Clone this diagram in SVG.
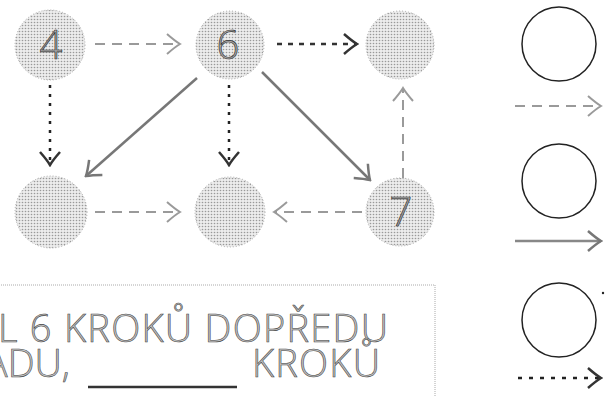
<svg xmlns="http://www.w3.org/2000/svg" width="614" height="396" viewBox="0 0 614 396">
<style>
.node{fill:url(#dots);stroke:#999;stroke-width:0.8;stroke-dasharray:1 2}
.digit{font-family:"Open Sans","Liberation Sans",sans-serif;font-weight:300;font-size:40px;fill:#aaa;stroke:#333;stroke-width:0.7;text-anchor:middle}
.lt{fill:none;stroke:#9a9a9a;stroke-width:2;stroke-dasharray:10 7;marker-end:url(#hl)}
.dk{fill:none;stroke:#333;stroke-width:2.5;stroke-dasharray:5 6;marker-end:url(#hd)}
.dot{fill:none;stroke:#222;stroke-width:2.5;stroke-dasharray:3 6;marker-end:url(#hd)}
.sol{fill:none;stroke:#777;stroke-width:2.5;marker-end:url(#hm)}
.ring{fill:none;stroke:#222;stroke-width:1.5}
.txt{font-family:"Open Sans","Liberation Sans",sans-serif;font-weight:300;font-size:38px;fill:#c4c4c4;stroke:#444;stroke-width:0.6}
</style>
<defs>
<pattern id="dots" width="3" height="3" patternUnits="userSpaceOnUse">
<rect width="3" height="3" fill="#ececec"/>
<circle cx="1.5" cy="1.5" r="0.8" fill="#999"/>
</pattern>
<marker id="hl" viewBox="-15 -12 17 24" refX="0" refY="0" markerWidth="17" markerHeight="24" markerUnits="userSpaceOnUse" orient="auto">
<path d="M-13,-10 Q-5,-3 0,0 Q-5,3 -13,10" fill="none" stroke="#9a9a9a" stroke-width="2"/>
</marker>
<marker id="hd" viewBox="-15 -12 17 24" refX="0" refY="0" markerWidth="17" markerHeight="24" markerUnits="userSpaceOnUse" orient="auto">
<path d="M-13,-10 Q-5,-3 0,0 Q-5,3 -13,10" fill="none" stroke="#333" stroke-width="2.5"/>
</marker>
<marker id="hm" viewBox="-15 -12 17 24" refX="0" refY="0" markerWidth="17" markerHeight="24" markerUnits="userSpaceOnUse" orient="auto">
<path d="M-13,-10 Q-5,-3 0,0 Q-5,3 -13,10" fill="none" stroke="#777" stroke-width="2.5"/>
</marker>
</defs>
<g id="connectors">
<path class="lt" d="M95 44 L180 44"/>
<path class="dk" d="M277 44 L357 44"/>
<path class="dot" d="M50 85 L50 165"/>
<path class="sol" d="M197 78 L86 176"/>
<path class="dot" d="M229 85 L229 165"/>
<path class="sol" d="M262 72 L370 180"/>
<path class="lt" d="M403 178 L403 88"/>
<path class="lt" d="M95 212 L180 212"/>
<path class="lt" d="M362 212 L274 212"/>
<path class="lt" d="M515 106 L601 106"/>
<path class="sol" d="M515 241 L601 241" style="stroke:#888"/>
<path class="dot" d="M518 378 L601 378" style="stroke-dasharray:4 7"/>
</g>
<g id="n4"><circle class="node" cx="50" cy="45" r="35"/><text class="digit" x="51" y="59">4</text></g>
<g id="n6"><circle class="node" cx="230" cy="45" r="34"/><text class="digit" x="228" y="59">6</text></g>
<g id="nTR"><circle class="node" cx="400" cy="45" r="34"/></g>
<g id="nBL"><circle class="node" cx="51" cy="212" r="36"/></g>
<g id="nBM"><circle class="node" cx="230" cy="212" r="35"/></g>
<g id="n7"><circle class="node" cx="400" cy="212" r="34"/><text class="digit" x="401" y="226">7</text></g>
<g id="r1"><circle class="ring" cx="559" cy="44" r="37"/></g>
<g id="r2"><circle class="ring" cx="559" cy="181" r="37"/></g>
<g id="r3"><circle class="ring" cx="559" cy="320" r="37"/><circle cx="603" cy="293" r="1.2" fill="#222"/></g>
<g id="textbox">
<rect x="-5" y="285" width="440" height="130" fill="none" stroke="#aaa" stroke-width="1" stroke-dasharray="1 1"/>
<text class="txt" x="-2" y="342" textLength="390" lengthAdjust="spacing">L 6 KROKŮ DOPŘEDU</text>
<text class="txt" x="70" y="377" text-anchor="end">ADU,</text>
<line x1="88" y1="387" x2="237" y2="387" stroke="#333" stroke-width="2.5"/>
<text class="txt" x="252" y="377" textLength="128" lengthAdjust="spacing">KROKŮ</text>
</g>
</svg>
